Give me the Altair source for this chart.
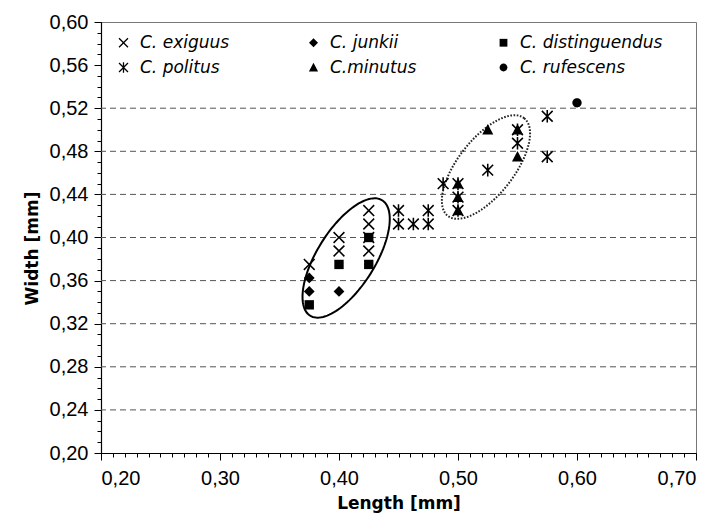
import math
import altair as alt
import pandas as pd

# ---------------- data ----------------
# legend order (filled column-wise by Vega: 2 rows x 3 columns)
species = ["C. exiguus", "C. politus", "C. junkii",
           "C.minutus", "C. distinguendus", "C. rufescens"]

exiguus_len = [0.375, 0.400, 0.400, 0.425, 0.425, 0.425, 0.425]
exiguus_wid = [0.375, 0.400, 0.3875, 0.425, 0.4125, 0.400, 0.3875]

junkii_len = [0.375, 0.375, 0.400]
junkii_wid = [0.3625, 0.350, 0.350]

distinguendus_len = [0.375, 0.400, 0.425, 0.425]
distinguendus_wid = [0.3375, 0.375, 0.400, 0.375]

politus_len = [0.450, 0.450, 0.4625, 0.475, 0.475, 0.4875, 0.500, 0.500, 0.500,
               0.525, 0.550, 0.550, 0.575, 0.575]
politus_wid = [0.425, 0.4125, 0.4125, 0.425, 0.4125, 0.450, 0.450, 0.4375, 0.425,
               0.4625, 0.500, 0.4875, 0.5125, 0.475]

minutus_len = [0.500, 0.500, 0.500, 0.525, 0.550, 0.550]
minutus_wid = [0.450, 0.4375, 0.425, 0.500, 0.500, 0.475]

rufescens_len = [0.600]
rufescens_wid = [0.525]

x_ticks = [0.20, 0.30, 0.40, 0.50, 0.60, 0.70]
y_ticks = [0.20, 0.24, 0.28, 0.32, 0.36, 0.40, 0.44, 0.48, 0.52, 0.56, 0.60]
grid_values = [0.24, 0.28, 0.32, 0.36, 0.40, 0.44, 0.48, 0.52]
x_minor = [round(0.20 + 0.01 * i, 2) for i in range(51)]
y_minor = [round(0.20 + 0.01 * i, 2) for i in range(41)]

# ellipse annotations: centre (data units), semi-axes (px), tilt (deg)
solid_ellipse = {"cx": 0.406, "cy": 0.381, "a": 68, "b": 29, "theta": 58}
dotted_ellipse = {"cx": 0.5235, "cy": 0.4654, "a": 62, "b": 28, "theta": 52}

# ---------------- layout ----------------
W, H = 595, 431
X_DOM = [0.20, 0.70]
Y_DOM = [0.20, 0.60]
PX_X = W / (X_DOM[1] - X_DOM[0])
PX_Y = H / (Y_DOM[1] - Y_DOM[0])

rows = []
for name, xs, ys in [
    ("C. exiguus", exiguus_len, exiguus_wid),
    ("C. junkii", junkii_len, junkii_wid),
    ("C. distinguendus", distinguendus_len, distinguendus_wid),
    ("C.minutus", minutus_len, minutus_wid),
    ("C. politus", politus_len, politus_wid),
    ("C. rufescens", rufescens_len, rufescens_wid),
]:
    for xv, yv in zip(xs, ys):
        rows.append({"species": name, "length": xv, "width": yv})
df = pd.DataFrame(rows)


def ellipse_df(p):
    th = math.radians(p["theta"])
    pts = []
    for i in range(0, 121):
        t = math.radians(i * 3)
        dx = p["a"] * math.cos(t) * math.cos(th) - p["b"] * math.sin(t) * math.sin(th)
        dy = p["a"] * math.cos(t) * math.sin(th) + p["b"] * math.sin(t) * math.cos(th)
        pts.append({"i": i, "length": p["cx"] + dx / PX_X, "width": p["cy"] + dy / PX_Y})
    return pd.DataFrame(pts)


def fmt(v):
    return f"{v:.3f}".rstrip("0").rstrip(".")


def x_polygon(L, w):
    """Thin filled 'x' glyph (a plus sign rotated 45 degrees)."""
    plus = [(w, -L), (w, -w), (L, -w), (L, w), (w, w), (w, L),
            (-w, L), (-w, w), (-L, w), (-L, -w), (-w, -w), (-w, -L)]
    r = 1 / math.sqrt(2)
    pts = [((x - y) * r, (x + y) * r) for x, y in plus]
    return "M" + "L".join(f"{fmt(x)},{fmt(y)}" for x, y in pts) + "Z"


W_BAR = 0.13
X_PATH = x_polygon(1.27, W_BAR)
ASTER_PATH = x_polygon(1.27, W_BAR) + (
    f"M{fmt(-W_BAR)},-1.05L{fmt(W_BAR)},-1.05L{fmt(W_BAR)},1.05L{fmt(-W_BAR)},1.05Z")
DIAMOND_PATH = "M0,-0.9L0.9,0L0,0.9L-0.9,0Z"
SQUARE_PATH = "M-0.78,-0.78L0.78,-0.78L0.78,0.78L-0.78,0.78Z"
TRIANGLE_PATH = "M0,-0.95L0.92,0.8L-0.92,0.8Z"
CIRCLE_PATH = "M-0.78,0A0.78,0.78 0 1,1 0.78,0A0.78,0.78 0 1,1 -0.78,0Z"

shape_paths = [X_PATH, ASTER_PATH, DIAMOND_PATH, TRIANGLE_PATH, SQUARE_PATH, CIRCLE_PATH]

label_expr = "replace(format(datum.value, '.2f'), '.', ',')"
xscale = alt.Scale(domain=X_DOM, nice=False, zero=False)
yscale = alt.Scale(domain=Y_DOM, nice=False, zero=False)

grid = alt.Chart(pd.DataFrame({"g": grid_values})).mark_rule(
    color="#555555", strokeDash=[6, 4], strokeWidth=1
).encode(y=alt.Y("g:Q", scale=yscale, axis=None))

ell1 = alt.Chart(ellipse_df(solid_ellipse)).mark_line(
    color="black", strokeWidth=2
).encode(
    x=alt.X("length:Q", scale=xscale, axis=None),
    y=alt.Y("width:Q", scale=yscale, axis=None),
    order=alt.Order("i:Q"),
)

ell2 = alt.Chart(ellipse_df(dotted_ellipse)).mark_line(
    color="#222222", strokeWidth=2, strokeDash=[1.6, 1.6]
).encode(
    x=alt.X("length:Q", scale=xscale, axis=None),
    y=alt.Y("width:Q", scale=yscale, axis=None),
    order=alt.Order("i:Q"),
)

points = alt.Chart(df).mark_point(
    filled=True, color="black", strokeWidth=0, size=144, opacity=1
).encode(
    x=alt.X("length:Q", scale=xscale, axis=alt.Axis(
        orient="bottom", values=x_ticks, labelExpr=label_expr, grid=False,
        title="Length [mm]", tickSize=7, labelPadding=8,
        titlePadding=7)),
    y=alt.Y("width:Q", scale=yscale, axis=alt.Axis(
        orient="left", values=y_ticks, labelExpr=label_expr, grid=False,
        title="Width [mm]", tickSize=7, labelPadding=6, titlePadding=8,
        titleY=226)),
    shape=alt.Shape("species:N", scale=alt.Scale(domain=species, range=shape_paths),
                    legend=alt.Legend(
                        title=None, orient="none", legendX=14, legendY=12,
                        columns=3, gridAlign="all", columnPadding=22, rowPadding=7,
                        labelFont="DejaVu Sans", labelFontStyle="italic",
                        labelFontSize=17, labelColor="black", labelOffset=8,
                        labelLimit=300, symbolSize=100, symbolFillColor="black",
                        symbolStrokeWidth=0, symbolOpacity=1, padding=0,
                        values=species)),
)

minor = alt.Chart(df).mark_point(opacity=0).encode(
    x=alt.X("length:Q", scale=xscale, axis=alt.Axis(
        orient="bottom", values=x_minor, labels=False, domain=False, grid=False,
        title=None, tickSize=4)),
    y=alt.Y("width:Q", scale=yscale, axis=alt.Axis(
        orient="left", values=y_minor, labels=False, domain=False, grid=False,
        title=None, tickSize=4)),
)

chart = alt.layer(grid, ell1, ell2, points, minor).resolve_axis(
    x="independent", y="independent"
).properties(
    width=W, height=H,
    background="white",
    autosize=alt.AutoSizeParams(type="none"),
    padding={"left": 93, "top": 14, "right": 16, "bottom": 60},
).configure_view(
    stroke="#777777", strokeWidth=1
).configure_axis(
    labelFont="Liberation Sans", labelFontSize=20, labelColor="black",
    tickColor="black", domainColor="black", domainWidth=1.2, tickWidth=1,
    titleFont="DejaVu Sans", titleFontSize=17, titleFontWeight="bold",
    titleColor="black",
)

chart.save("out.html", embed_options={"renderer": "svg", "actions": False})
